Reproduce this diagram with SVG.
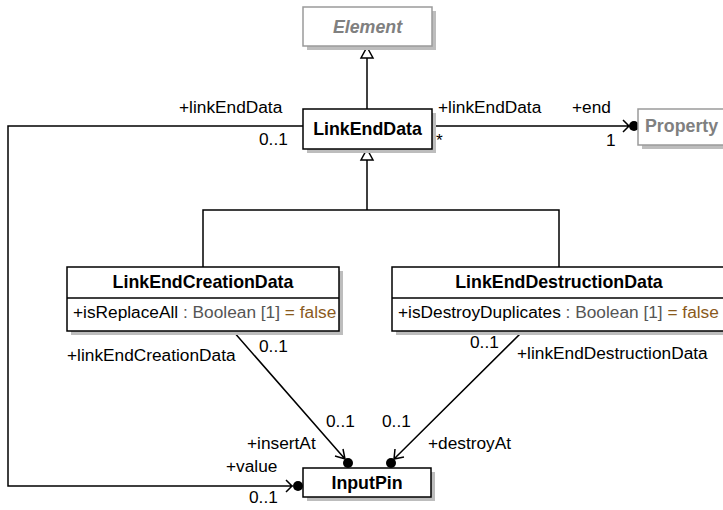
<svg xmlns="http://www.w3.org/2000/svg" width="723" height="510" viewBox="0 0 723 510">
<defs>
<style>
text{font-family:"Liberation Sans",Arial,sans-serif;font-size:17.3px;fill:#000}
.b{font-weight:bold;font-size:17.8px}
.c{text-anchor:middle}
.g{fill:#808080}
.gr{fill:#555}
.f{fill:#8a5a1c}
.box{fill:#fff;stroke:#000;stroke-width:1.5}
.gbox{fill:#fff;stroke:#9a9a9a;stroke-width:1.5}
.sh{fill:#bdbdbd}
.ln{fill:none;stroke:#000;stroke-width:1.5}
.tri{fill:#fff;stroke:#000;stroke-width:1.5}
.ball{fill:#000}
</style>
</defs>
<rect width="723" height="510" fill="#fff"/>
<g id="connectors">
<path class="ln" d="M367,109 V58"/>
<path class="tri" d="M367,47 L373,58 L361,58 Z"/>
<path class="ln" d="M203,267 V210 H559 V267 M367,210 V160"/>
<path class="tri" d="M367,149 L373,160 L361,160 Z"/>
<path class="ln" d="M432,126 H629 M623,120 L629,126 L623,132"/>
<circle class="ball" cx="634" cy="126" r="5"/>
<path class="ln" d="M303,126 H8 V486 H293 M286,480 L292,486 L286,492"/>
<circle class="ball" cx="298" cy="486" r="5"/>
<path class="ln" d="M233,331 L345,459 M343,449 L345,459 L335,456"/>
<circle class="ball" cx="348" cy="463" r="5"/>
<path class="ln" d="M523,331 L394,459 M395,449 L394,459 L404,457"/>
<circle class="ball" cx="391" cy="463" r="5"/>
</g>
<g id="Element">
<rect class="sh" x="307" y="11" width="129" height="39"/>
<rect class="gbox" x="303" y="7" width="129" height="39"/>
<text class="b c g" x="367.5" y="33" font-style="italic">Element</text>
</g>
<g id="LinkEndData">
<rect class="sh" x="307" y="113" width="129" height="40"/>
<rect class="box" x="303" y="109" width="129" height="40"/>
<text class="b c" x="367.5" y="135">LinkEndData</text>
</g>
<g id="Property">
<rect class="sh" x="642" y="113" width="84" height="36"/>
<rect class="gbox" x="638" y="109" width="90" height="36"/>
<text class="b g" x="645" y="132">Property</text>
</g>
<g id="LinkEndCreationData">
<rect class="sh" x="71" y="271" width="272" height="64"/>
<rect class="box" x="67" y="267" width="272" height="64"/>
<path class="ln" d="M67,298 H339"/>
<text class="b c" x="203" y="288">LinkEndCreationData</text>
<text x="73" y="318">+isReplaceAll<tspan class="gr"> : Boolean [1] </tspan><tspan class="f">= false</tspan></text>
</g>
<g id="LinkEndDestructionData">
<rect class="sh" x="396" y="271" width="334" height="64"/>
<rect class="box" x="392" y="267" width="334" height="64"/>
<path class="ln" d="M392,298 H726"/>
<text class="b c" x="559" y="288">LinkEndDestructionData</text>
<text x="398" y="318">+isDestroyDuplicates<tspan class="gr"> : Boolean [1] </tspan><tspan class="f">= false</tspan></text>
</g>
<g id="InputPin">
<rect class="sh" x="307" y="472" width="128" height="29"/>
<rect class="box" x="303" y="468" width="128" height="29"/>
<text class="b c" x="367" y="489">InputPin</text>
</g>
<g id="labels">
<text x="179" y="113">+linkEndData</text>
<text x="259" y="145">0..1</text>
<text x="436" y="146">*</text>
<text x="438" y="113">+linkEndData</text>
<text x="572" y="113">+end</text>
<text x="606" y="146">1</text>
<text x="67" y="361">+linkEndCreationData</text>
<text x="259" y="352">0..1</text>
<text x="470" y="348">0..1</text>
<text x="517" y="359">+linkEndDestructionData</text>
<text x="326" y="427">0..1</text>
<text x="382" y="427">0..1</text>
<text x="247" y="449">+insertAt</text>
<text x="428" y="449">+destroyAt</text>
<text x="226" y="472">+value</text>
<text x="249" y="503">0..1</text>
</g>
</svg>
